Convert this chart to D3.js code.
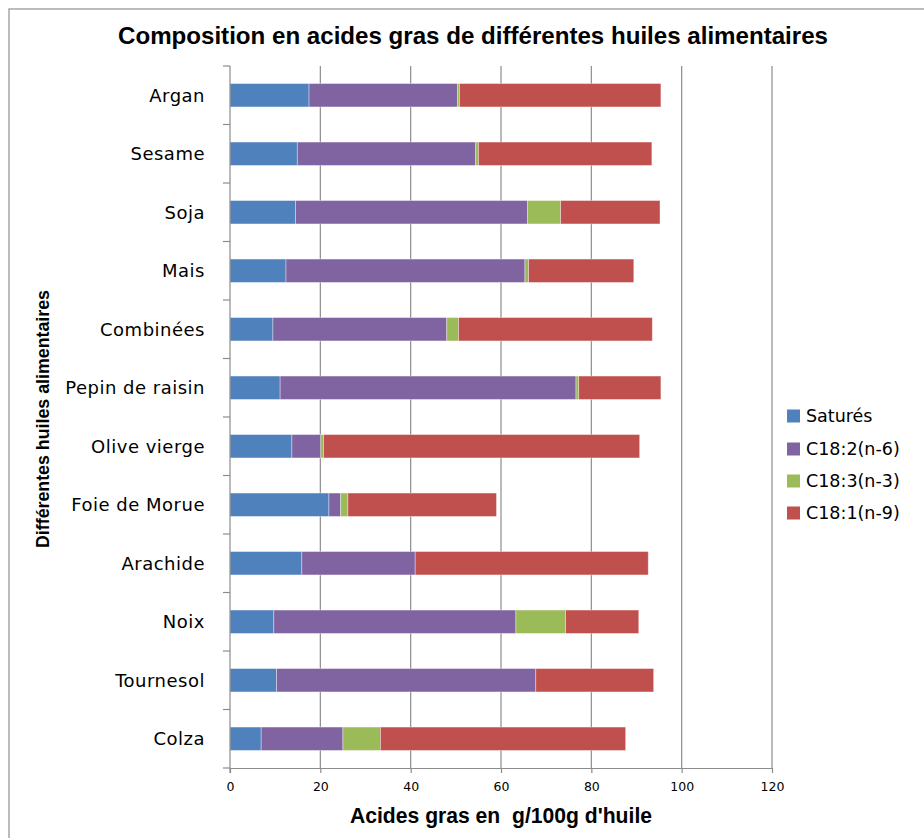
<!DOCTYPE html>
<html>
<head>
<meta charset="utf-8">
<script src="https://cdn.jsdelivr.net/npm/d3@7"></script>
<style>
  html, body { margin: 0; padding: 0; background: #fff; }
  svg { display: block; }
  text.keep-spaces { white-space: pre; }
</style>
</head>
<body>
<svg id="chart" width="924" height="838"></svg>
<script>
// Oils, listed top to bottom
const oils = ["Argan", "Sesame", "Soja", "Mais", "Combinées", "Pepin de raisin",
  "Olive vierge", "Foie de Morue", "Arachide", "Noix", "Tournesol", "Colza"];

// Fatty acid content, g per 100 g of oil
const satures = [17.5, 14.9, 14.5, 12.4, 9.5, 11.1, 13.7, 21.9, 15.9, 9.7, 10.3, 6.9];
const c18_2_n6 = [32.9, 39.5, 51.4, 52.9, 38.5, 65.5, 6.4, 2.6, 25.1, 53.6, 57.4, 18.1];
const c18_3_n3 = [0.4, 0.6, 7.3, 0.8, 2.6, 0.6, 0.6, 1.6, 0, 11.0, 0, 8.3];
const c18_1_n9 = [44.6, 38.4, 22.0, 23.3, 42.9, 18.2, 70.0, 32.9, 51.6, 16.2, 26.1, 54.3];

const seriesNames = ["Saturés", "C18:2(n-6)", "C18:3(n-3)", "C18:1(n-9)"];
const seriesColors = ["#4F81BD", "#8064A2", "#9BBB59", "#C0504D"];
const xTicks = [0, 20, 40, 60, 80, 100, 120];

const rows = oils.map((name, i) => ({
  name,
  "Saturés": satures[i],
  "C18:2(n-6)": c18_2_n6[i],
  "C18:3(n-3)": c18_3_n3[i],
  "C18:1(n-9)": c18_1_n9[i]
}));

const svg = d3.select("#chart");
const plot = { left: 230, right: 772, top: 66, bottom: 768 };

// outer chart frame
svg.append("rect")
  .attr("x", 9).attr("y", 9).attr("width", 940).attr("height", 860)
  .attr("fill", "none").attr("stroke", "#a6a6a6").attr("stroke-width", 1.5);

const x = d3.scaleLinear().domain([0, 120]).range([plot.left, plot.right]);
const y = d3.scaleBand().domain(oils).range([plot.top, plot.bottom])
  .paddingInner(0.6).paddingOuter(0.3);

// vertical gridlines
svg.append("g").selectAll("line")
  .data(xTicks.filter(t => t > 0))
  .join("line")
  .attr("x1", d => x(d)).attr("x2", d => x(d))
  .attr("y1", plot.top).attr("y2", plot.bottom)
  .attr("stroke", "#8c8c8c").attr("stroke-width", 1.2);

// stacked bars
const stack = d3.stack().keys(seriesNames);
const layers = stack(rows);

svg.append("g").selectAll("g")
  .data(layers)
  .join("g")
  .attr("fill", (d, i) => seriesColors[i])
  .selectAll("rect")
  .data(d => d)
  .join("rect")
  .attr("x", d => x(d[0]))
  .attr("width", d => Math.max(0, x(d[1]) - x(d[0])))
  .attr("y", d => y(d.data.name))
  .attr("height", y.bandwidth())
  .attr("stroke", "#ffffff").attr("stroke-opacity", 0.45).attr("stroke-width", 0.8);

// bottom axis
const xAxis = svg.append("g")
  .attr("transform", `translate(0,${plot.bottom})`)
  .call(d3.axisBottom(x).tickValues(xTicks).tickSize(5).tickPadding(9).tickSizeOuter(0));
xAxis.select(".domain").attr("stroke", "#8c8c8c").attr("stroke-width", 1.2);
xAxis.selectAll(".tick line").attr("stroke", "#8c8c8c").attr("stroke-width", 1.2);
xAxis.selectAll(".tick text")
  .attr("font-family", "DejaVu Sans, Verdana, sans-serif")
  .attr("font-size", 12.5).attr("fill", "#000");

// left axis: ticks sit on the category boundaries
const boundaries = d3.range(oils.length + 1).map(i => plot.top + i * (plot.bottom - plot.top) / oils.length);
const yAxis = svg.append("g");
yAxis.append("line")
  .attr("x1", plot.left).attr("x2", plot.left)
  .attr("y1", plot.top).attr("y2", plot.bottom + 5)
  .attr("stroke", "#8c8c8c").attr("stroke-width", 1.2);
yAxis.selectAll("line.tick")
  .data(boundaries)
  .join("line")
  .attr("class", "tick")
  .attr("x1", plot.left - 7).attr("x2", plot.left)
  .attr("y1", d => d).attr("y2", d => d)
  .attr("stroke", "#8c8c8c").attr("stroke-width", 1.2);
yAxis.selectAll("text")
  .data(oils)
  .join("text")
  .attr("x", 205)
  .attr("y", d => y(d) + y.bandwidth() / 2)
  .attr("dy", "0.36em")
  .attr("text-anchor", "end")
  .attr("font-family", "DejaVu Sans, Verdana, sans-serif")
  .attr("font-size", 18)
  .attr("letter-spacing", 0.5)
  .attr("fill", "#000")
  .text(d => d);

// titles
svg.append("text")
  .attr("x", 473).attr("y", 44)
  .attr("text-anchor", "middle")
  .attr("font-family", "Liberation Sans, Arial, sans-serif")
  .attr("font-weight", "bold").attr("font-size", 24)
  .attr("textLength", 710).attr("lengthAdjust", "spacingAndGlyphs")
  .text("Composition en acides gras de différentes huiles alimentaires");

svg.append("text")
  .attr("class", "keep-spaces")
  .attr("x", 501).attr("y", 823)
  .attr("text-anchor", "middle")
  .attr("font-family", "Liberation Sans, Arial, sans-serif")
  .attr("font-weight", "bold").attr("font-size", 22)
  .attr("textLength", 302).attr("lengthAdjust", "spacingAndGlyphs")
  .text("Acides gras en  g/100g d'huile");

svg.append("text")
  .attr("transform", "translate(49,419) rotate(-90)")
  .attr("text-anchor", "middle")
  .attr("font-family", "Liberation Sans, Arial, sans-serif")
  .attr("font-weight", "bold").attr("font-size", 18)
  .attr("textLength", 258).attr("lengthAdjust", "spacingAndGlyphs")
  .text("Différentes huiles alimentaires");

// legend
const legend = svg.append("g");
const legendY = [416, 449, 481, 513];
seriesNames.forEach((name, i) => {
  legend.append("rect")
    .attr("x", 787).attr("y", legendY[i] - 6.5)
    .attr("width", 13).attr("height", 13)
    .attr("fill", seriesColors[i]);
  legend.append("text")
    .attr("x", 806).attr("y", legendY[i])
    .attr("dy", "0.36em")
    .attr("font-family", "DejaVu Sans, Verdana, sans-serif")
    .attr("font-size", 17.5)
    .attr("fill", "#000")
    .text(name);
});
</script>
</body>
</html>
